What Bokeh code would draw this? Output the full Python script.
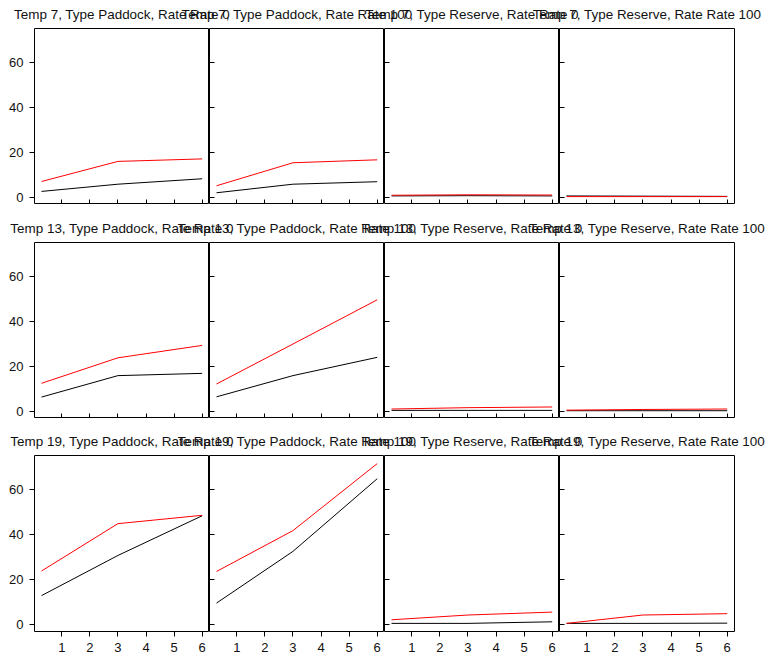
from bokeh.plotting import figure
from bokeh.layouts import column, row
from bokeh.models import Range1d, FixedTicker, CustomJSTickFormatter, ColumnDataSource
from bokeh.core.properties import value
from bokeh.embed import file_html
from bokeh.resources import INLINE

# ---- data ----
weeks = [0.28, 3, 6]
temps = [7, 13, 19]
panel_types = ["Paddock", "Paddock", "Reserve", "Reserve"]
panel_rates = [0, 100, 0, 100]
x_ticks = [1, 2, 3, 4, 5, 6]
y_ticks = [0, 20, 40, 60]

# black series, one list per panel (Paddock 0, Paddock 100, Reserve 0, Reserve 100)
black_temp7 = [[2.8, 6.0, 8.4], [2.2, 6.0, 7.1], [0.8, 0.9, 0.8], [0.8, 0.7, 0.6]]
black_temp13 = [[6.5, 16.0, 17.0], [6.6, 16.0, 24.1], [0.6, 0.6, 0.6], [0.45, 0.45, 0.45]]
black_temp19 = [[12.9, 30.7, 48.3], [9.6, 32.5, 64.7], [0.6, 0.6, 1.3], [0.6, 0.6, 0.7]]
# red series
red_temp7 = [[7.2, 16.1, 17.2], [5.3, 15.5, 16.8], [1.1, 1.3, 1.2], [0.5, 0.5, 0.5]]
red_temp13 = [[12.6, 23.9, 29.4], [12.3, 30.0, 49.6], [1.2, 1.8, 2.1], [0.7, 1.0, 1.2]]
red_temp19 = [[23.8, 44.8, 48.5], [23.6, 41.7, 71.4], [2.2, 4.3, 5.6], [0.6, 4.3, 4.9]]

black_rows = [black_temp7, black_temp13, black_temp19]
red_rows = [red_temp7, red_temp13, red_temp19]

# ---- layout constants ----
FONT = "Liberation Sans"
LEFT = 34
PW = 175
PH = 176
strip_heights = [28, 38, 37]
TOTAL_W = 768

empty_fmt = CustomJSTickFormatter(code="return ''")


def make_strip(ri, h):
    s = figure(width=TOTAL_W, height=h, x_axis_type=None, y_axis_type=None,
               x_range=Range1d(-LEFT / PW, (TOTAL_W - LEFT) / PW), y_range=Range1d(0, 1),
               toolbar_location=None, output_backend="svg",
               min_border=0, outline_line_color=None)
    s.grid.visible = False
    titles = [f"Temp {temps[ri]}, Type {t}, Rate Rate {r}" for t, r in zip(panel_types, panel_rates)]
    src = ColumnDataSource(dict(x=[i + 0.5 for i in range(4)], y=[0] * 4, t=titles))
    s.text(x="x", y="y", text="t", source=src, text_align="center", text_baseline="middle",
           y_offset=-14, text_font=value(FONT), text_font_size="13.45px", text_color="#111111")
    return s


def make_panel(ri, ci):
    last_row = ri == 2
    first_col = ci == 0
    p = figure(frame_width=PW, frame_height=PH,
               x_range=Range1d(0.03, 6.26), y_range=Range1d(-3, 75),
               toolbar_location=None, output_backend="svg",
               min_border_left=LEFT if first_col else 0,
               min_border_right=TOTAL_W - LEFT - 4 * PW if ci == 3 else 0,
               min_border_top=0,
               min_border_bottom=28 if last_row else 0,
               outline_line_color="black", outline_line_width=1)
    p.grid.visible = False
    p.xaxis.ticker = FixedTicker(ticks=x_ticks)
    p.yaxis.ticker = FixedTicker(ticks=y_ticks)
    for ax in p.axis:
        ax.axis_line_color = None
        ax.minor_tick_line_color = None
        ax.major_tick_line_color = "black"
        ax.major_label_text_font = FONT
        ax.major_label_text_font_size = "13px"
        ax.major_label_text_color = "#111111"
    # x axis
    if last_row:
        p.xaxis.major_tick_out = 5
        p.xaxis.major_tick_in = 0
        p.xaxis.major_label_standoff = 6
    else:
        p.xaxis.major_tick_out = 0
        p.xaxis.major_tick_in = 5
        p.xaxis.major_label_standoff = 0
        p.xaxis.formatter = empty_fmt
        p.xaxis.major_label_text_font_size = "0px"
    # y axis
    if first_col:
        p.yaxis.major_tick_out = 5
        p.yaxis.major_tick_in = 0
        p.yaxis.major_label_standoff = 6
    else:
        p.yaxis.major_tick_out = 0
        p.yaxis.major_tick_in = 5
        p.yaxis.major_label_standoff = 0
        p.yaxis.formatter = empty_fmt
        p.yaxis.major_label_text_font_size = "0px"
    p.line(weeks, black_rows[ri][ci], line_color="black", line_width=1)
    p.line(weeks, red_rows[ri][ci], line_color="red", line_width=1)
    return p


children = []
for ri in range(3):
    children.append(make_strip(ri, strip_heights[ri]))
    children.append(row([make_panel(ri, ci) for ci in range(4)], spacing=0))

layout = column(children, spacing=0)

open("out.html", "w").write(file_html(layout, INLINE))
